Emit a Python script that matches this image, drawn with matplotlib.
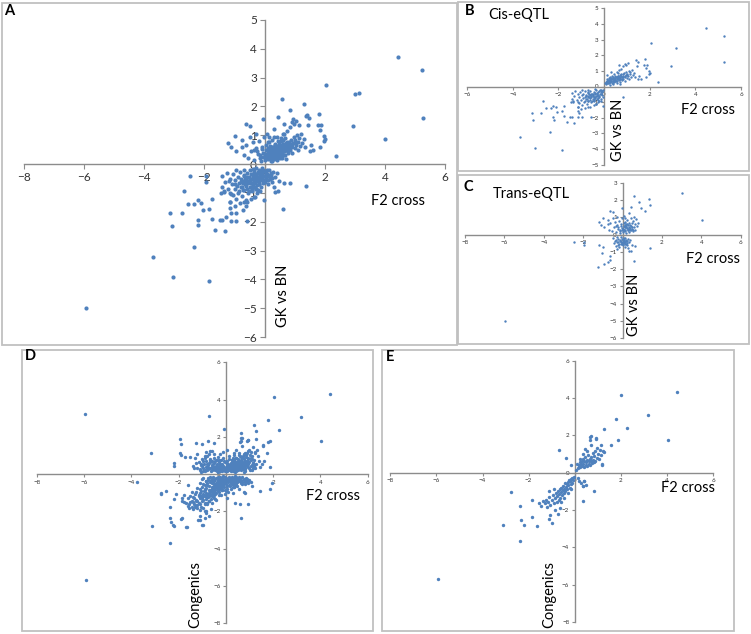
import matplotlib
matplotlib.use("Agg")
import matplotlib.pyplot as plt
from matplotlib.patches import Rectangle

plt.rcParams['font.family'] = ['Lato', 'DejaVu Sans']

BLUE = '#4F81BD'
GREY = '#8C8C8C'
W, H = 751, 634

# ---- cis-eQTL points (panel B, also part of A) ----
cis_up = [
    (0.05, 0.22), (0.08, 0.30), (0.10, 0.18), (0.12, 0.35), (0.15, 0.25), (0.18, 0.42), (0.20, 0.30), (0.22, 0.20),
    (0.25, 0.38), (0.28, 0.28), (0.30, 0.45), (0.32, 0.33), (0.35, 0.22), (0.38, 0.50), (0.40, 0.36), (0.42, 0.28),
    (0.45, 0.55), (0.48, 0.42), (0.50, 0.32), (0.52, 0.62), (0.55, 0.48), (0.58, 0.38), (0.60, 0.70), (0.62, 0.55),
    (0.65, 0.44), (0.68, 0.30), (0.70, 0.62), (0.72, 0.50), (0.75, 0.78), (0.78, 0.40), (0.80, 0.58), (0.82, 0.68),
    (0.85, 0.48), (0.88, 0.85), (0.90, 0.60), (0.92, 0.38), (0.95, 0.72), (0.98, 0.95), (1.00, 0.55), (1.02, 0.82),
    (1.05, 0.66), (1.08, 1.00), (1.10, 0.50), (1.12, 0.78), (1.15, 0.92), (1.18, 0.62), (1.22, 1.05), (1.25, 0.72),
    (1.30, 0.88), (1.35, 0.58), (0.20, 0.55), (0.35, 0.65), (0.45, 0.80), (0.55, 0.90), (0.65, 1.05), (0.75, 1.15),
    (0.85, 1.30), (0.92, 1.45), (0.98, 1.38), (1.05, 1.50), (0.15, 0.75), (0.30, 0.95), (0.25, 0.12), (0.40, 0.15),
    (0.58, 0.20), (0.70, 0.18), (0.12, 0.48), (0.62, 0.85), (0.48, 0.70), (0.38, 0.30), (0.65, 1.39),
]
cis_core_up = [
    (0.15, 0.35), (0.20, 0.42), (0.25, 0.48), (0.30, 0.38), (0.35, 0.45), (0.40, 0.52), (0.45, 0.40), (0.50, 0.45),
    (0.55, 0.58), (0.60, 0.50), (0.65, 0.62), (0.70, 0.55), (0.75, 0.65), (0.80, 0.50), (0.85, 0.62), (0.22, 0.28),
    (0.32, 0.52), (0.42, 0.45), (0.52, 0.38), (0.62, 0.68), (0.72, 0.72), (0.82, 0.78), (0.18, 0.22), (0.28, 0.60),
    (0.38, 0.62), (0.48, 0.55), (0.58, 0.62), (0.68, 0.48), (0.92, 0.70), (1.00, 0.75),
]
cis_low = [
    (-0.05, -0.20), (-0.10, -0.35), (-0.08, -0.55), (-0.15, -0.25), (-0.18, -0.45), (-0.20, -0.70), (-0.22, -0.30),
    (-0.25, -0.55), (-0.28, -0.85), (-0.30, -0.40), (-0.32, -0.62), (-0.35, -0.25), (-0.38, -0.75), (-0.40, -0.50),
    (-0.42, -0.95), (-0.45, -0.35), (-0.48, -0.62), (-0.50, -0.80), (-0.52, -0.45), (-0.55, -1.00), (-0.58, -0.58),
    (-0.60, -0.30), (-0.62, -0.75), (-0.65, -0.50), (-0.68, -0.90), (-0.70, -0.38), (-0.72, -0.65), (-0.75, -1.10),
    (-0.78, -0.52), (-0.80, -0.80), (-0.82, -0.28), (-0.85, -0.65), (-0.88, -1.00), (-0.90, -0.45), (-0.92, -0.75),
    (-0.95, -1.20), (-0.98, -0.55), (-1.00, -0.88), (-1.05, -0.35), (-1.08, -0.70), (-1.10, -1.05), (-1.15, -0.50),
    (-1.20, -0.85), (-1.25, -0.30), (-1.30, -0.62), (-1.35, -0.95), (-0.12, -0.80), (-0.25, -1.00), (-0.35, -1.15),
    (-0.05, -0.65), (-0.15, -0.95), (-0.60, -1.30), (-0.45, -1.20), (-0.82, -1.35), (-1.00, -1.45), (-1.15, -1.30),
    (-0.70, -0.20), (-0.40, -0.18), (-0.95, -0.20), (-1.40, -0.40),
]
cis_core_low = [
    (-0.15, -0.50), (-0.20, -0.60), (-0.25, -0.72), (-0.30, -0.48), (-0.35, -0.58), (-0.40, -0.68), (-0.45, -0.78),
    (-0.50, -0.55), (-0.55, -0.65), (-0.60, -0.88), (-0.65, -0.70), (-0.70, -0.58), (-0.75, -0.80), (-0.80, -0.62),
    (-0.85, -0.92), (-0.28, -0.35), (-0.38, -0.42), (-0.48, -0.50), (-0.58, -0.45), (-0.68, -0.40), (-0.12, -0.38),
    (-0.22, -0.90), (-0.32, -0.78), (-0.42, -0.85), (-0.52, -0.92), (-0.62, -0.55), (-0.72, -0.90), (-0.18, -0.22),
    (-0.08, -0.30), (-0.45, -0.65),
]
cis_out = [
    (4.45, 3.72), (5.24, 3.25), (5.27, 1.59), (2.04, 2.76), (3.15, 2.48), (2.93, 1.31), (2.36, 0.27),
    (1.48, 1.59), (1.39, 1.67), (1.80, 1.75), (1.85, 1.20), (1.88, 1.35), (1.77, 1.37), (1.44, 1.34),
    (1.55, 0.65), (1.60, 0.49), (1.50, 0.46), (1.85, 0.59), (1.98, 0.98), (2.02, 0.86), (1.96, 0.80),
    (-3.70, -3.24), (-3.04, -3.91), (-1.86, -4.04), (-2.35, -2.89), (-3.15, -1.71), (-3.09, -2.15),
    (-2.74, -1.69), (-2.67, -0.94), (-2.53, -1.37), (-2.34, -1.40), (-2.22, -1.25), (-2.11, -1.34),
    (-2.05, -1.60), (-1.86, -1.57), (-2.22, -1.94), (-2.21, -2.13), (-1.74, -1.22), (-1.74, -1.89),
    (-1.64, -2.29), (-1.30, -2.33), (-1.47, -1.94), (-1.41, -1.94), (-1.12, -1.97), (-0.95, -1.98),
    (-0.58, -1.98), (-1.42, -0.79), (-1.45, -0.99), (-1.34, -0.98), (-1.16, -1.02), (-1.14, -1.31),
    (-1.16, -1.54), (-1.11, -1.71), (-0.70, -1.31), (0.85, -0.65), (-0.03, -1.25), (-0.33, -1.13),
]

# ---- trans-eQTL points (panel C, also part of A) ----
trans_up = [
    (-0.75, 0.85), (-0.70, 0.30), (-0.62, 0.65), (-0.55, 0.20), (-0.50, 0.95), (-0.45, 0.45), (-0.40, 0.75),
    (-0.35, 0.15), (-0.30, 0.55), (-0.28, 1.05), (-0.22, 0.35), (-0.18, 0.80), (-0.15, 0.22), (-0.10, 0.60),
    (-0.05, 0.40), (-0.02, 0.95), (0.02, 0.15), (0.05, 0.50), (0.08, 0.30), (0.10, 0.75), (0.12, 0.22),
    (0.15, 0.45), (0.18, 0.62), (0.20, 0.12), (0.22, 0.38), (0.25, 0.85), (0.28, 0.28), (0.30, 0.55),
    (0.32, 0.18), (0.35, 0.70), (0.38, 0.40), (0.40, 0.25), (0.42, 0.95), (0.45, 0.50), (0.48, 0.33),
    (0.50, 0.65), (0.52, 0.20), (0.55, 0.80), (0.58, 0.45), (0.62, 0.60), (0.65, 0.30), (0.68, 0.90),
    (0.72, 0.50), (0.78, 0.70), (0.32, 1.23), (0.08, 1.06), (-0.12, 0.10), (0.15, 0.95), (-0.35, 0.50),
    (0.60, 1.05),
]
trans_core_up = [
    (-0.25, 0.45), (-0.15, 0.30), (-0.08, 0.52), (0.00, 0.35), (0.05, 0.25), (0.10, 0.42), (0.15, 0.28),
    (0.20, 0.48), (0.25, 0.38), (0.30, 0.25), (0.35, 0.45), (0.40, 0.58), (0.45, 0.30), (0.50, 0.42),
    (0.55, 0.28), (0.05, 0.65), (0.25, 0.60), (-0.05, 0.25), (0.35, 0.32), (0.12, 0.55),
]
trans_low = [
    (-0.48, -0.20), (-0.45, -0.50), (-0.40, -0.35), (-0.35, -0.65), (-0.30, -0.15), (-0.25, -0.45),
    (-0.22, -0.28), (-0.18, -0.70), (-0.15, -0.38), (-0.10, -0.55), (-0.08, -0.12), (-0.05, -0.42),
    (0.00, -0.62), (0.02, -0.25), (0.05, -0.48), (0.08, -0.35), (0.12, -0.70), (0.15, -0.20),
    (0.18, -0.52), (0.22, -0.38), (0.25, -0.62), (0.28, -0.28), (0.30, -0.80), (0.35, -0.45),
    (0.40, -0.30), (0.45, -0.95), (0.48, -0.60), (0.34, -0.96), (0.19, -0.38), (-0.30, -0.85),
]
trans_core_low = [
    (-0.35, -0.30), (-0.28, -0.40), (-0.20, -0.52), (-0.12, -0.30), (-0.05, -0.25), (0.00, -0.40),
    (0.05, -0.32), (0.10, -0.55), (0.15, -0.42), (0.20, -0.30), (-0.10, -0.45), (-0.25, -0.60),
    (0.25, -0.48), (-0.02, -0.55), (0.08, -0.20),
]
trans_out = [
    (-5.95, -5.00), (3.00, 2.43), (4.01, 0.86), (0.59, 2.27), (1.32, 2.08), (0.85, 1.87), (0.93, 1.57),
    (1.41, 1.70), (1.15, 1.37), (-0.05, 1.55), (0.43, 1.62), (-0.62, 1.40), (-0.50, 1.32), (-0.99, 0.96),
    (-1.20, 0.72), (-1.10, 0.58), (-0.94, 0.46), (-0.75, 0.60), (-2.49, -0.43), (-1.95, -0.42),
    (-1.95, -0.62), (-1.27, -1.85), (-0.95, -1.71), (-0.72, -1.60), (-0.62, -1.45), (-0.62, -1.24),
    (-1.05, -1.08), (-0.99, -0.70), (-1.18, -0.58), (0.60, -1.55), (1.38, -0.75), (0.64, -0.66),
]

# ---- congenics vs F2 (panel E; panel D = E + extra) ----
e_up = [
    (0.15, 0.25), (0.18, 0.40), (0.20, 0.32), (0.22, 0.55), (0.25, 0.28), (0.28, 0.45), (0.30, 0.62),
    (0.32, 0.35), (0.35, 0.75), (0.38, 0.48), (0.40, 0.30), (0.42, 0.62), (0.45, 0.85), (0.48, 0.42),
    (0.50, 0.55), (0.52, 0.70), (0.55, 0.38), (0.58, 0.95), (0.60, 0.60), (0.62, 0.48), (0.65, 0.75),
    (0.68, 0.40), (0.70, 0.62), (0.72, 0.85), (0.75, 0.52), (0.78, 1.05), (0.80, 0.70), (0.82, 0.58),
    (0.85, 0.90), (0.88, 0.65), (0.90, 1.15), (0.95, 0.80), (0.98, 1.30), (1.02, 1.00), (1.05, 0.75),
    (1.08, 1.20), (1.12, 0.95), (1.14, 1.46), (1.18, 0.46), (1.25, 1.12), (0.43, 1.29), (0.69, 1.48),
    (0.66, 1.93), (0.94, 1.84), (0.05, 0.15), (0.10, 0.45), (0.35, 1.00), (0.55, 1.15), (-0.15, 0.41),
    (0.25, 0.75),
]
e_low = [
    (-0.05, -0.25), (-0.08, -0.40), (-0.10, -0.30), (-0.12, -0.55), (-0.15, -0.35), (-0.18, -0.62),
    (-0.20, -0.45), (-0.22, -0.80), (-0.25, -0.40), (-0.28, -0.65), (-0.30, -0.52), (-0.32, -0.90),
    (-0.35, -0.60), (-0.38, -0.75), (-0.40, -1.00), (-0.42, -0.55), (-0.45, -0.85), (-0.48, -1.10),
    (-0.50, -0.70), (-0.52, -0.95), (-0.55, -1.20), (-0.58, -0.80), (-0.60, -1.05), (-0.62, -1.35),
    (-0.65, -0.90), (-0.68, -1.15), (-0.70, -1.45), (-0.72, -1.00), (-0.75, -1.25), (-0.78, -1.55),
    (-0.82, -1.10), (-0.85, -1.35), (-0.90, -1.60), (-0.95, -1.20), (-1.00, -1.45), (-1.05, -1.75),
    (-1.10, -1.30), (-1.15, -1.55), (-1.20, -1.85), (-1.25, -1.45), (-1.30, -1.65), (-1.38, -1.50),
    (-1.45, -1.78), (-1.55, -1.60), (-0.15, -0.85), (-0.30, -1.10), (-0.45, -1.35), (-0.60, -1.55),
    (-0.90, -0.85), (-1.10, -1.00), (0.13, -0.30), (0.20, -0.42), (0.28, -0.55), (0.35, -0.71),
    (0.42, -0.47), (0.48, -0.65),
]
e_out = [
    (4.42, 4.30), (2.03, 4.15), (3.18, 3.08), (1.79, 2.89), (2.26, 2.37), (1.26, 2.33), (4.03, 1.75),
    (1.87, 1.75), (1.58, 1.48), (-5.93, -5.69), (-3.13, -2.79), (-2.37, -3.68), (-2.76, -1.06),
    (-2.38, -1.79), (-2.33, -2.56), (-2.20, -2.79), (-1.85, -1.45), (-1.85, -2.38), (-1.63, -2.83),
    (-1.11, -2.49), (-0.98, -2.72), (-1.08, -2.27), (-0.72, -2.23), (-0.63, -1.90), (-0.87, -1.99),
    (-0.67, 1.23), (-0.38, 0.78), (0.38, -1.54), (0.83, -1.00), (0.35, -0.71), (0.42, -0.47),
    (0.65, 1.77), (0.70, 1.95), (0.94, 1.82), (1.22, 1.17), (1.19, 0.43),
]
d_up = [
    (-1.20, 0.35), (-1.15, 0.62), (-1.10, 0.20), (-1.05, 0.48), (-1.00, 0.80), (-0.95, 0.30), (-0.92, 0.55),
    (-0.88, 0.18), (-0.85, 0.70), (-0.80, 0.40), (-0.78, 0.95), (-0.75, 0.25), (-0.72, 0.58), (-0.68, 0.35),
    (-0.65, 0.82), (-0.62, 0.15), (-0.60, 0.48), (-0.58, 0.68), (-0.55, 0.28), (-0.52, 1.05), (-0.50, 0.40),
    (-0.48, 0.60), (-0.45, 0.20), (-0.42, 0.78), (-0.40, 0.35), (-0.38, 0.52), (-0.35, 0.90), (-0.32, 0.25),
    (-0.30, 0.65), (-0.28, 0.42), (-0.25, 0.15), (-0.22, 0.75), (-0.20, 0.32), (-0.18, 0.55), (-0.15, 0.22),
    (-0.12, 0.88), (-0.10, 0.45), (-0.08, 0.30), (-0.05, 0.62), (-0.02, 0.18), (0.02, 0.40), (0.05, 0.72),
    (0.08, 0.25), (0.10, 0.52), (0.12, 0.35), (0.15, 0.95), (0.18, 0.20), (0.20, 0.60), (0.22, 0.42),
    (0.25, 0.30), (0.28, 0.78), (0.30, 0.50), (0.32, 0.15), (0.35, 0.38), (0.38, 0.65), (0.40, 0.28),
    (0.42, 0.48), (0.45, 0.85), (0.48, 0.35), (0.50, 0.58), (0.52, 0.22), (0.55, 0.70), (0.58, 0.42),
    (0.60, 0.30), (0.62, 0.92), (0.65, 0.52), (0.68, 0.38), (0.70, 0.65), (0.72, 0.25), (0.75, 0.80),
    (0.78, 0.45), (0.80, 0.58), (0.82, 0.32), (0.85, 1.00), (0.88, 0.50), (0.90, 0.70), (0.95, 0.40),
    (1.00, 0.62), (1.05, 0.85), (1.10, 0.48), (1.15, 0.30), (1.20, 0.75), (1.28, 0.55), (1.35, 0.95),
    (1.45, 0.40), (-1.30, 0.85), (-1.40, 0.45), (-0.85, 1.20), (-0.60, 1.25), (-0.25, 1.10), (0.35, 1.15),
    (-0.90, 0.95), (-0.70, 1.10), (-0.10, 1.20), (0.55, 1.00), (0.95, 1.25), (-1.05, 0.10), (-0.35, 0.10),
    (0.40, 0.10), (0.75, 0.12),
]
d_core_up = [
    (-1.10, 0.28), (-1.00, 0.42), (-0.90, 0.22), (-0.80, 0.55), (-0.70, 0.30), (-0.60, 0.38), (-0.50, 0.25),
    (-0.40, 0.45), (-0.30, 0.32), (-0.20, 0.22), (-0.10, 0.38), (0.00, 0.28), (0.10, 0.20), (0.20, 0.35),
    (0.30, 0.25), (0.40, 0.40), (0.50, 0.30), (0.60, 0.45), (0.70, 0.35), (0.80, 0.28), (0.90, 0.42),
    (1.00, 0.32), (1.10, 0.22), (1.20, 0.40), (-1.05, 0.55), (-0.95, 0.68), (-0.85, 0.40), (-0.75, 0.48),
    (-0.65, 0.62), (-0.55, 0.52), (-0.45, 0.68), (-0.35, 0.40), (-0.25, 0.55), (-0.15, 0.48), (-0.05, 0.22),
    (0.05, 0.55), (0.15, 0.42), (0.25, 0.50), (0.35, 0.55), (0.45, 0.62), (0.55, 0.48), (0.65, 0.38),
    (0.75, 0.55), (0.85, 0.65), (0.95, 0.55), (1.05, 0.45), (1.15, 0.60), (1.25, 0.35), (-0.98, 0.18),
    (-0.78, 0.20), (-0.58, 0.20), (-0.38, 0.18), (-0.18, 0.15), (0.02, 0.18), (0.22, 0.15), (0.42, 0.18),
    (0.62, 0.20), (0.82, 0.18), (1.02, 0.20), (-0.88, 0.85), (-0.68, 0.75), (-0.48, 0.85), (-0.28, 0.75),
    (-0.08, 0.72), (0.12, 0.80), (0.32, 0.85), (0.52, 0.82), (0.72, 0.95), (0.92, 0.88), (1.12, 0.82),
    (-1.25, 0.60), (-1.35, 0.30), (1.40, 0.70), (1.55, 0.55),
]
d_low = [
    (-1.00, -0.25), (-0.95, -0.55), (-0.90, -0.80), (-0.85, -0.35), (-0.82, -1.00), (-0.78, -0.60),
    (-0.75, -0.20), (-0.72, -0.85), (-0.68, -0.45), (-0.65, -1.10), (-0.62, -0.30), (-0.60, -0.70),
    (-0.58, -0.95), (-0.55, -0.15), (-0.52, -0.52), (-0.50, -0.82), (-0.48, -0.35), (-0.45, -1.05),
    (-0.42, -0.62), (-0.40, -0.22), (-0.38, -0.45), (-0.35, -0.78), (-0.32, -0.30), (-0.30, -0.95),
    (-0.28, -0.55), (-0.25, -0.18), (-0.22, -0.68), (-0.20, -0.40), (-0.18, -0.85), (-0.15, -0.25),
    (-0.12, -0.58), (-0.10, -0.12), (-0.08, -0.72), (-0.05, -0.35), (-0.02, -0.50), (0.02, -0.20),
    (0.05, -0.65), (0.08, -0.30), (0.10, -0.45), (0.12, -0.15), (0.15, -0.58), (0.18, -0.25),
    (0.20, -0.80), (0.22, -0.38), (0.25, -0.15), (0.28, -0.50), (0.30, -0.28), (0.32, -0.68),
    (0.35, -0.20), (0.38, -0.42), (0.40, -0.32), (0.42, -0.58), (0.45, -0.18), (0.48, -0.45),
    (0.50, -0.28), (0.55, -0.38), (0.58, -0.22), (0.62, -0.50), (0.65, -0.30), (0.70, -0.42),
    (0.75, -0.25), (0.80, -0.55), (0.85, -0.35), (0.92, -0.48), (1.00, -0.30), (0.10, -0.95),
    (-0.05, -1.05), (0.30, -1.00), (0.55, -0.80), (0.75, -0.95), (-1.10, -0.50), (-1.05, -0.90),
    (-1.15, -1.20), (-1.20, -0.75), (-1.25, -1.40), (-1.30, -1.05), (-1.35, -1.60), (-1.40, -1.25),
    (-1.45, -0.95), (-1.50, -1.50), (-1.55, -1.80), (-1.60, -1.30), (-1.70, -1.55), (-1.75, -1.10),
    (-1.00, -1.30), (-0.90, -1.55), (-0.80, -1.25), (-0.70, -1.45), (-0.60, -1.20), (-0.50, -1.30),
    (-1.20, -1.65), (-0.95, -1.80), (-1.10, -1.95), (-1.40, -1.90), (-0.85, -2.00), (-0.40, -1.40),
    (-0.20, -1.15), (0.00, -0.90), (1.10, -0.62), (-1.60, -0.60),
]
d_core_low = [
    (-0.95, -0.22), (-0.85, -0.40), (-0.75, -0.30), (-0.65, -0.18), (-0.55, -0.35), (-0.45, -0.25),
    (-0.35, -0.15), (-0.25, -0.32), (-0.15, -0.20), (-0.05, -0.15), (0.05, -0.28), (0.15, -0.35),
    (0.25, -0.25), (0.35, -0.32), (0.45, -0.25), (0.55, -0.18), (0.65, -0.40), (0.75, -0.32),
    (0.85, -0.22), (0.95, -0.38), (-0.90, -0.60), (-0.80, -0.48), (-0.70, -0.65), (-0.60, -0.50),
    (-0.50, -0.62), (-0.40, -0.55), (-0.30, -0.45), (-0.20, -0.58), (-0.10, -0.40), (0.00, -0.52),
    (0.10, -0.32), (0.20, -0.48), (0.30, -0.40), (0.40, -0.48), (0.50, -0.40), (0.60, -0.30),
    (0.70, -0.55), (0.80, -0.45), (0.90, -0.28), (1.05, -0.45), (-1.10, -0.80), (-1.00, -0.70),
    (-0.92, -0.92), (-0.85, -0.75), (-0.75, -1.05), (-0.68, -0.85), (-0.55, -0.78), (-0.48, -0.95),
    (-0.38, -0.70), (-0.28, -0.80), (-0.15, -0.70), (-0.05, -0.85), (0.05, -0.78), (0.18, -0.65),
    (0.35, -0.58), (-1.25, -0.95), (-1.15, -1.10), (-1.05, -1.20), (-0.95, -1.05), (-1.35, -1.30),
    (-1.20, -1.45), (-1.10, -1.60), (-1.30, -1.75), (-0.98, -1.40), (-0.88, -1.20), (-1.45, -1.45),
    (-1.50, -1.20), (-1.62, -1.70), (-0.70, -1.20), (-0.78, -1.60), (-0.30, -0.22), (0.20, -0.20),
    (0.40, -0.12), (-0.60, -0.28), (0.70, -0.15),
]
d_out = [
    (-5.94, 3.20), (-0.73, 3.13), (-0.06, 2.40), (-3.17, 1.11), (-3.77, -0.41), (-1.96, 1.86), (-1.90, 1.61),
    (-1.96, 1.11), (-1.90, 1.00), (-2.21, 0.61), (-2.21, 0.43), (-1.72, 0.89), (-1.51, 0.93), (-1.26, 1.68),
    (-1.02, 1.59), (-0.75, 1.77), (-0.52, 1.65), (-1.23, 1.07), (0.04, 1.29), (0.63, 2.18), (0.61, 1.74),
    (0.89, 1.79), (1.17, 2.65), (1.28, 1.88), (1.57, 1.56), (1.31, 1.29), (1.62, 0.72), (1.76, 1.11),
    (1.80, 1.74), (1.88, 0.39), (1.14, 0.61), (0.82, 1.11), (-2.75, -1.04), (-2.54, -0.91), (-2.21, -1.36),
    (-1.86, -1.31), (-1.79, -1.48), (-2.36, -2.38), (-2.24, -2.74), (-1.68, -2.83), (-1.02, -2.72),
    (-0.82, -2.08), (0.04, -1.31), (0.61, -1.61), (0.63, -2.38), (0.92, -1.61), (1.45, -0.91),
    (1.85, -0.80), (1.95, -0.50), (-2.10, -1.09), (-1.89, -2.42), (-0.87, -2.34), (-1.17, -2.47),
]

cis = cis_up + cis_core_up + cis_low + cis_core_low + cis_out
trans = trans_up + trans_core_up + trans_low + trans_core_low + trans_out
cong_e = e_up + e_low + e_out
cong_d = cong_e + d_up + d_core_up + d_low + d_core_low + d_out


def frac(x, y):
    return x / W, 1 - y / H


def make_axes(fig, x0, y0, x1, y1):
    return fig.add_axes([x0 / W, 1 - y1 / H, (x1 - x0) / W, (y1 - y0) / H])


def excel_style(ax, xlim, ylim, xticks, yticks, fs, tl):
    ax.set_xlim(xlim)
    ax.set_ylim(ylim)
    ax.set_xticks(xticks)
    ax.set_yticks(yticks)
    ax.patch.set_alpha(0)
    for s in ['top', 'right']:
        ax.spines[s].set_visible(False)
    for s in ['left', 'bottom']:
        ax.spines[s].set_position(('data', 0))
        ax.spines[s].set_color(GREY)
        ax.spines[s].set_linewidth(1.0)
    ax.tick_params(direction='out', length=tl, width=0.8, color=GREY,
                   labelsize=fs, labelcolor='#333333', pad=2)


def scatter(ax, pts, s):
    xs = [p[0] for p in pts]
    ys = [p[1] for p in pts]
    ax.scatter(xs, ys, s=s, color=BLUE, linewidths=0, clip_on=False, zorder=3)


fig = plt.figure(figsize=(W / 100, H / 100), dpi=100)

# panel frames
for (x0, y0, x1, y1) in [(2, 3, 457, 345), (458, 2, 749, 171), (458, 175, 749, 344),
                         (22, 350, 373, 631), (382, 350, 734, 631)]:
    fig.add_artist(Rectangle(frac(x0, y1), (x1 - x0) / W, (y1 - y0) / H,
                             transform=fig.transFigure, fill=False,
                             edgecolor='#C0C0C0', linewidth=1.3))

# A
axA = make_axes(fig, 24, 20, 445, 337)
excel_style(axA, (-8, 6), (-6, 5), range(-8, 7, 2), range(-6, 6), 8.5, 3.5)
scatter(axA, cis + trans, 9)
fig.text(*frac(9, 11), 'A', fontsize=10.5, fontweight='bold', ha='center', va='center')
fig.text(*frac(398, 201), 'F2 cross', fontsize=10.5, ha='center', va='center')
fig.text(*frac(283, 296), 'GK vs BN', fontsize=10.5, rotation=90, ha='center', va='center')

# B
axB = make_axes(fig, 467, 8.3, 741, 164.7)
excel_style(axB, (-6, 6), (-5, 5), range(-6, 7, 2), range(-5, 6), 4.5, 2)
scatter(axB, cis, 3)
fig.text(*frac(470, 11), 'B', fontsize=10.5, fontweight='bold', ha='center', va='center')
fig.text(*frac(519, 15), 'Cis-eQTL', fontsize=10.5, ha='center', va='center')
fig.text(*frac(708, 110), 'F2 cross', fontsize=10.5, ha='center', va='center')
fig.text(*frac(618, 130), 'GK vs BN', fontsize=10.5, rotation=90, ha='center', va='center')

# C
axC = make_axes(fig, 465, 183, 740.7, 338)
excel_style(axC, (-8, 6), (-6, 3), range(-8, 7, 2), range(-6, 4), 4.5, 2)
scatter(axC, trans, 3)
fig.text(*frac(468, 187), 'C', fontsize=10.5, fontweight='bold', ha='center', va='center')
fig.text(*frac(531, 194), 'Trans-eQTL', fontsize=10.5, ha='center', va='center')
fig.text(*frac(713, 259), 'F2 cross', fontsize=10.5, ha='center', va='center')
fig.text(*frac(634, 305), 'GK vs BN', fontsize=10.5, rotation=90, ha='center', va='center')

# D
axD = make_axes(fig, 36.7, 362.3, 367.7, 623)
excel_style(axD, (-8, 6), (-8, 6), range(-8, 7, 2), range(-8, 7, 2), 4.5, 2)
scatter(axD, cong_d, 6)
fig.text(*frac(30, 356), 'D', fontsize=10.5, fontweight='bold', ha='center', va='center')
fig.text(*frac(333, 496), 'F2 cross', fontsize=10.5, ha='center', va='center')
fig.text(*frac(195, 595), 'Congenics', fontsize=10.5, rotation=90, ha='center', va='center')

# E
axE = make_axes(fig, 390.3, 360.7, 713, 622)
excel_style(axE, (-8, 6), (-8, 6), range(-8, 7, 2), range(-8, 7, 2), 4.5, 2)
scatter(axE, cong_e, 6)
fig.text(*frac(390, 357), 'E', fontsize=10.5, fontweight='bold', ha='center', va='center')
fig.text(*frac(688, 488), 'F2 cross', fontsize=10.5, ha='center', va='center')
fig.text(*frac(549, 595), 'Congenics', fontsize=10.5, rotation=90, ha='center', va='center')

fig.savefig('out.png', dpi=100)
